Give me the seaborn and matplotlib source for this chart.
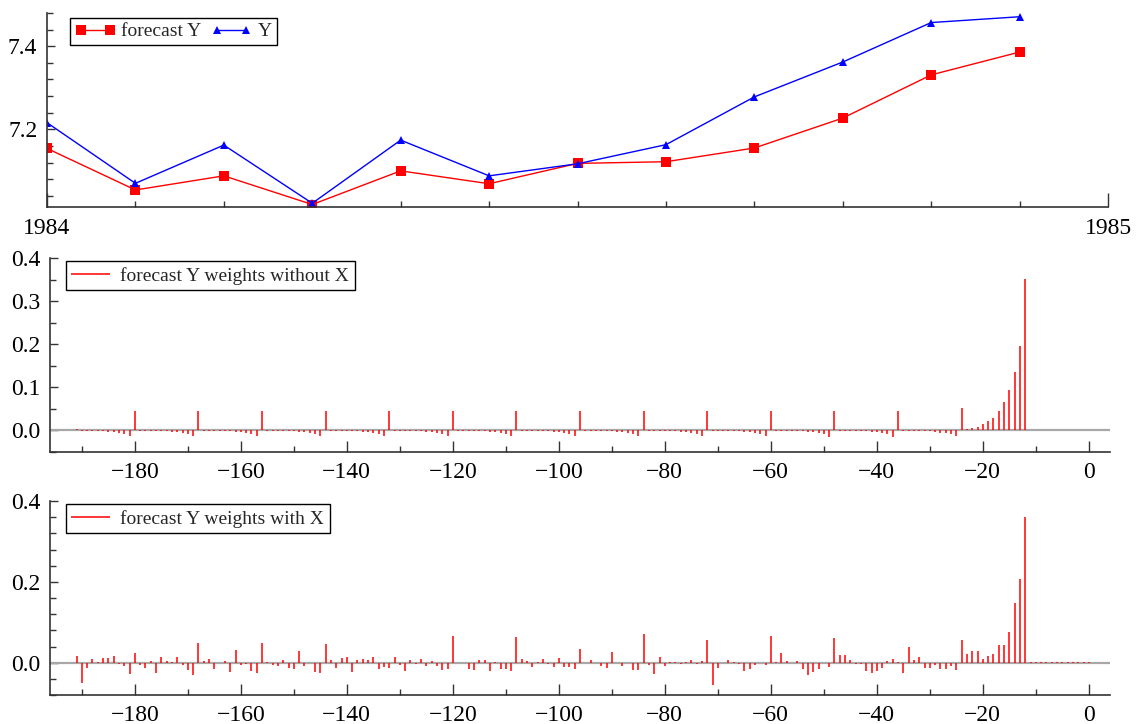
import numpy as np
import pandas as pd
import matplotlib
matplotlib.use("Agg")
import matplotlib.pyplot as plt
from matplotlib.ticker import MultipleLocator, FixedLocator, FixedFormatter
import seaborn as sns

# ---------------- data ----------------
months = ["Jan", "Feb", "Mar", "Apr", "May", "Jun",
          "Jul", "Aug", "Sep", "Oct", "Nov", "Dec"]
forecast_y = [7.154, 7.054, 7.088, 7.019, 7.100, 7.069,
              7.118, 7.122, 7.155, 7.227, 7.331, 7.386]
actual_y = [7.216, 7.070, 7.162, 7.022, 7.174, 7.088,
            7.117, 7.163, 7.278, 7.362, 7.457, 7.471]

lag_start, lag_end = -191, 0

weights_without_x = [
    0.003, -0.0005, -0.001, -0.001, -0.0015, -0.002, -0.003, -0.004, -0.006, -0.009, -0.013, 0.045,
    -0.0005, -0.0005, -0.001, -0.001, -0.0015, -0.002, -0.003, -0.004, -0.006, -0.009, -0.014, 0.045,
    -0.0005, -0.0005, -0.001, -0.001, -0.0015, -0.002, -0.003, -0.004, -0.006, -0.009, -0.014, 0.045,
    -0.0005, -0.0005, -0.001, -0.001, -0.0015, -0.002, -0.003, -0.004, -0.006, -0.009, -0.014, 0.045,
    -0.0005, -0.0005, -0.001, -0.001, -0.0015, -0.002, -0.003, -0.004, -0.006, -0.009, -0.014, 0.045,
    -0.0005, -0.0005, -0.001, -0.001, -0.0015, -0.002, -0.003, -0.004, -0.006, -0.009, -0.014, 0.045,
    -0.0005, -0.0005, -0.001, -0.001, -0.0015, -0.002, -0.003, -0.004, -0.006, -0.009, -0.014, 0.045,
    -0.0005, -0.0005, -0.001, -0.001, -0.0015, -0.002, -0.003, -0.004, -0.006, -0.009, -0.014, 0.045,
    -0.0005, -0.0005, -0.001, -0.001, -0.0015, -0.002, -0.003, -0.004, -0.006, -0.009, -0.014, 0.045,
    -0.0005, -0.0005, -0.001, -0.001, -0.0015, -0.002, -0.003, -0.004, -0.006, -0.009, -0.014, 0.045,
    -0.0005, -0.0005, -0.001, -0.001, -0.0015, -0.002, -0.003, -0.004, -0.006, -0.009, -0.014, 0.046,
    -0.0005, -0.0005, -0.001, -0.001, -0.0015, -0.002, -0.003, -0.004, -0.006, -0.009, -0.015, 0.046,
    -0.0005, -0.0005, -0.001, -0.001, -0.0015, -0.002, -0.003, -0.004, -0.006, -0.009, -0.015, 0.046,
    -0.0005, -0.0005, -0.001, -0.001, -0.0015, -0.002, -0.003, -0.005, -0.007, -0.009, -0.014, 0.051,
    0.003, 0.006, 0.009, 0.014, 0.021, 0.030, 0.044, 0.065, 0.094, 0.136, 0.195, 0.351,
    0.0015, 0.0015, 0.0015, 0.0015, 0.0015, 0.0015, 0.0015, 0.0015, 0.0015, 0.0015, 0.0015, 0.0015,
]

weights_with_x = [
    0.016, -0.051, -0.012, 0.008, 0.002, 0.011, 0.012, 0.016, -0.003, -0.008, -0.028, 0.024,
    -0.007, -0.012, 0.004, -0.026, 0.014, 0.004, 0.002, 0.013, -0.007, -0.017, -0.031, 0.049,
    0.004, 0.009, -0.015, -0.002, 0.004, -0.023, 0.031, -0.007, -0.004, -0.020, -0.025, 0.048,
    0.002, -0.005, -0.009, 0.007, -0.012, -0.016, 0.028, -0.008, -0.001, -0.022, -0.025, 0.046,
    0.007, -0.012, 0.011, 0.014, -0.022, 0.007, 0.010, 0.007, 0.015, -0.016, -0.010, -0.012,
    0.014, -0.007, -0.020, 0.006, -0.004, 0.009, -0.009, 0.004, -0.009, -0.018, -0.015, 0.066,
    0.000, 0.000, -0.015, -0.018, 0.007, 0.007, -0.020, 0.001, -0.015, -0.016, -0.020, 0.063,
    0.008, 0.004, -0.010, 0.002, 0.008, -0.003, -0.010, 0.011, -0.010, -0.011, -0.016, 0.035,
    -0.002, 0.006, 0.000, -0.008, -0.013, 0.026, -0.001, -0.008, -0.002, -0.018, -0.018, 0.070,
    -0.005, -0.027, 0.014, -0.009, 0.002, 0.002, -0.003, 0.002, 0.006, -0.003, 0.004, 0.057,
    -0.055, -0.013, 0.000, 0.006, 0.002, -0.003, -0.021, -0.016, -0.006, 0.000, -0.006, 0.065,
    0.002, 0.023, 0.003, 0.000, 0.004, -0.015, -0.031, -0.023, -0.016, 0.000, -0.010, 0.061,
    0.019, 0.018, 0.006, -0.004, -0.003, -0.020, -0.025, -0.020, -0.012, 0.005, 0.008, 0.002,
    -0.026, 0.039, 0.007, 0.013, -0.013, -0.012, -0.007, -0.015, -0.015, -0.009, -0.019, 0.057,
    0.021, 0.029, 0.030, 0.008, 0.017, 0.021, 0.044, 0.044, 0.075, 0.148, 0.207, 0.361,
    0.0015, 0.0015, 0.0015, 0.0015, 0.0015, 0.0015, 0.0015, 0.0015, 0.0015, 0.0015, 0.0015, 0.0015,
]

lags = list(range(lag_start, lag_end + 1))
time_axis = [1984 + i / 12 for i in range(len(months))]

# ---------------- style ----------------
sns.set_theme(style="ticks")
plt.rcParams["font.family"] = ["Liberation Serif", "DejaVu Serif"]
plt.rcParams["axes.unicode_minus"] = True
plt.rcParams["xtick.direction"] = "in"
plt.rcParams["ytick.direction"] = "in"

W, H = 1136, 724
fig = plt.figure(figsize=(W / 100, H / 100), dpi=100)

def frac(left, top, right, bottom):
    return [left / W, 1 - bottom / H, (right - left) / W, (bottom - top) / H]

ax1 = fig.add_axes(frac(47, 13, 1108, 207))
ax2 = fig.add_axes(frac(50, 258, 1110, 452))
ax3 = fig.add_axes(frac(50, 501, 1110, 695))

spine_col = "#333333"
tick_fs = 17
leg_fs = 14

def style_axes(ax):
    for s in ["top", "right"]:
        ax.spines[s].set_visible(False)
    for s in ["left", "bottom"]:
        ax.spines[s].set_color(spine_col)
        ax.spines[s].set_linewidth(1.2)
    ax.tick_params(which="both", colors=spine_col, labelcolor="black",
                   labelsize=tick_fs, width=1.0)
    ax.tick_params(which="major", length=6)
    ax.tick_params(which="minor", length=4)
    ax.tick_params(axis="y", which="major", pad=7)

# ---------------- top panel ----------------
df_top = pd.DataFrame({"t": time_axis, "forecast": forecast_y, "y": actual_y})
sns.lineplot(data=df_top, x="t", y="forecast", ax=ax1, color="#ff0000",
             linewidth=1.0, marker="s", markersize=6.5, markeredgewidth=0,
             label="forecast Y")
sns.lineplot(data=df_top, x="t", y="y", ax=ax1, color="#0000ff",
             linewidth=1.0, marker="^", markersize=6, markeredgewidth=0,
             label="Y")
style_axes(ax1)
ax1.set_xlim(1984, 1985)
ax1.set_ylim(7.013, 7.48)
ax1.set_xlabel("")
ax1.set_ylabel("")
ax1.xaxis.set_major_locator(FixedLocator([1984, 1985]))
ax1.xaxis.set_major_formatter(FixedFormatter(["1984", "1985"]))
ax1.xaxis.set_minor_locator(FixedLocator(time_axis))
ax1.tick_params(axis="x", which="major", length=10, pad=8)
ax1.tick_params(axis="x", which="minor", length=4)
ax1.yaxis.set_major_locator(MultipleLocator(0.2))
ax1.yaxis.set_minor_locator(MultipleLocator(0.04))
ax1.yaxis.set_major_formatter(matplotlib.ticker.FormatStrFormatter("%.1f"))
leg1 = ax1.legend(loc="upper left", ncol=2, fontsize=leg_fs, frameon=True,
                  fancybox=False, edgecolor="black", framealpha=1,
                  borderpad=0.25, handlelength=2.1, handletextpad=0.3,
                  columnspacing=0.5, numpoints=2, borderaxespad=0.25,
                  bbox_to_anchor=(0.017, 1.0))
leg1.get_frame().set_linewidth(1.0)

# ---------------- stem panels ----------------
def stem_panel(ax, weights, label, ylim, major, minor):
    ax.axhline(0, color="#a8a8a8", linewidth=1.6, zorder=1)
    ax.vlines(lags, 0, weights, color="#ff0000", linewidth=1.1, zorder=2,
              label=label)
    style_axes(ax)
    ax.set_xlim(-196, 4)
    ax.set_ylim(*ylim)
    ax.xaxis.set_major_locator(MultipleLocator(20))
    ax.xaxis.set_minor_locator(MultipleLocator(10))
    ax.yaxis.set_major_locator(MultipleLocator(major))
    ax.yaxis.set_minor_locator(MultipleLocator(minor))
    ax.yaxis.set_major_formatter(matplotlib.ticker.FormatStrFormatter("%.1f"))
    ax.tick_params(axis="x", which="major", length=8, pad=7)
    leg = ax.legend(loc="upper left", fontsize=leg_fs, frameon=True,
                    fancybox=False, edgecolor="black", framealpha=1,
                    borderpad=0.3, handlelength=2.0, handletextpad=0.5,
                    borderaxespad=0.15, bbox_to_anchor=(0.012, 1.0))
    leg.get_frame().set_linewidth(1.0)

stem_panel(ax2, weights_without_x, "forecast Y weights without X",
           (-0.05, 0.4), 0.1, 0.05)
stem_panel(ax3, weights_with_x, "forecast Y weights with X",
           (-0.08, 0.4), 0.2, 0.04)

fig.savefig("out.png", dpi=100)
